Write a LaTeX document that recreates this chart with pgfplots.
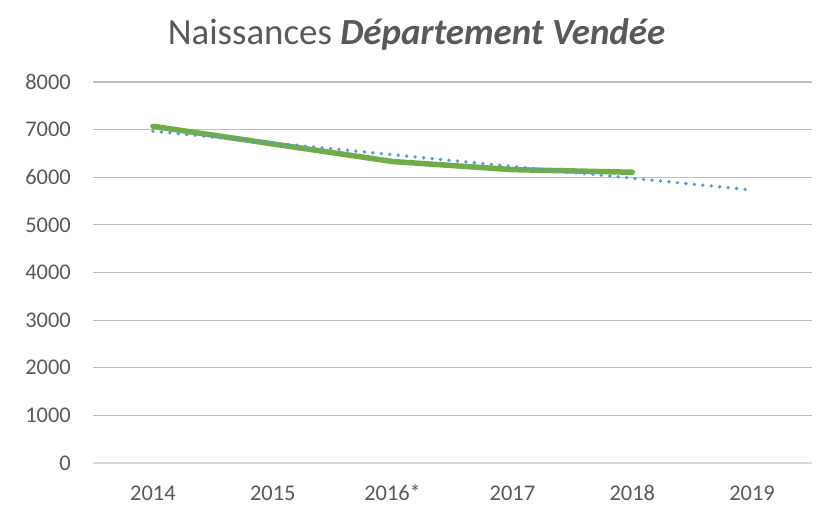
\documentclass[border=0pt]{standalone}
\usepackage{pgfplots}
\pgfplotsset{compat=1.18}
\usepackage{fontspec}
\setmainfont{Carlito}
\definecolor{grid}{HTML}{D9D9D9}
\definecolor{txt}{HTML}{595959}
\definecolor{xgreen}{HTML}{70AD47}
\definecolor{xblue}{HTML}{5B9BD5}
\begin{document}
\begin{tikzpicture}[x=1bp,y=1bp]
\useasboundingbox (0,0) rectangle (817,505);
\begin{axis}[
  at={(93bp,42bp)}, anchor=south west,
  scale only axis, width=719bp, height=381bp,
  xmin=-0.5, xmax=5.5, ymin=0, ymax=8000,
  xtick={0,1,2,3,4,5},
  xticklabels={2014,2015,2016*,2017,2018,2019},
  ytick={0,1000,...,8000},
  ymajorgrids, xmajorgrids=false,
  major grid style={grid, line width=1.2bp},
  axis x line*=bottom, axis y line*=left,
  x axis line style={grid, line width=1.2bp, -},
  y axis line style={draw=none},
  major tick length=0pt, tick style={draw=none},
  ticklabel style={font=\fontsize{22.5}{26}\selectfont, text=txt, inner sep=0pt},
  /pgf/number format/assume math mode=true,
  /pgf/number format/1000 sep={},
  xticklabel style={anchor=base, yshift=-38bp},
  yticklabel style={anchor=east, xshift=-22bp},
  clip=false,
]
\addplot[xgreen, line width=5.5bp, line cap=round, line join=round] coordinates {
  (0,7070) (1,6700) (2,6330) (3,6160) (4,6105)
};
\addplot[xblue, line width=3.8bp, line cap=round, dash pattern=on 0bp off 8.5bp] coordinates {
  (0,6967) (5,5732)
};
\end{axis}
\node[text=txt, font=\fontsize{37}{44}\selectfont, anchor=base, inner sep=0pt] at (416.5,460) {Naissances \textbf{\textit{Département Vendée}}};
\end{tikzpicture}
\end{document}
